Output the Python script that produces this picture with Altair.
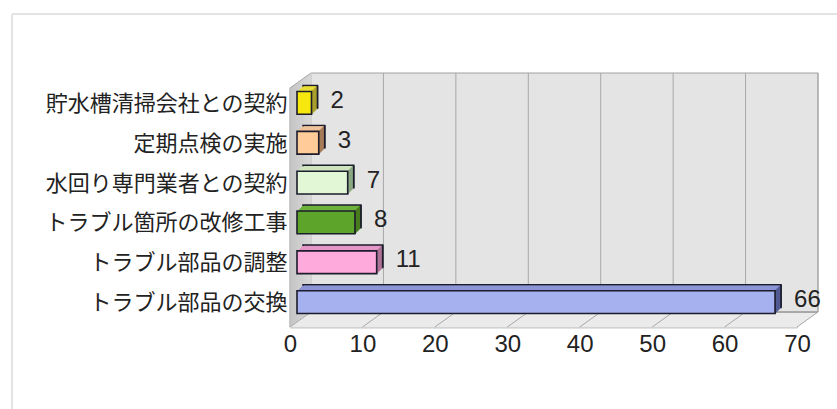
import altair as alt
import pandas as pd

# Survey answers: measures taken against water-fixture trouble
categories = [
    "貯水槽清掃会社との契約",
    "定期点検の実施",
    "水回り専門業者との契約",
    "トラブル箇所の改修工事",
    "トラブル部品の調整",
    "トラブル部品の交換",
]
values = [2, 3, 7, 8, 11, 66]
x_ticks = [0, 10, 20, 30, 40, 50, 60, 70]

# Face colours of each 3-D bar (front, top, right side)
front_colors = ["#f6e80c", "#ffcc99", "#e2f7d6", "#5ca42a", "#ffaadc", "#a6b1ef"]
top_colors = ["#e8dc3a", "#eec39c", "#cfe5c0", "#6cb23c", "#e497c6", "#8c95d6"]
side_colors = ["#a9a12c", "#a57a58", "#8aa982", "#467a1e", "#ad7395", "#4f5890"]

df = pd.DataFrame({
    "cat": categories,
    "val": values,
    "front": front_colors,
    "top": top_colors,
    "side": side_colors,
})
grid_df = pd.DataFrame({"g": x_ticks})
one = pd.DataFrame({"k": [0]})

W, H = 507, 239
WALL_DX, WALL_DY = 21, -15      # depth of the walls / floor
BAR_DX, BAR_DY = 7, -5          # gap between front plane and bar front
DEPTH = 6                       # bar depth (px, diagonal steps)
EDGE = "#1c1c2c"
GRID = "#a8a8a8"

xs = alt.Scale(domain=[0, 70], nice=False, zero=True)
ys = alt.Scale(domain=categories, paddingInner=0.43, paddingOuter=0.215)
bandwidth = 0.57 * H / 6

X = alt.X("val:Q", scale=xs,
          axis=alt.Axis(values=x_ticks, title=None, grid=False, ticks=False,
                        domain=True, domainColor="#8a8a8a", domainWidth=1.5,
                        labelFont="Liberation Sans", labelFontSize=24,
                        labelColor="#222222", labelPadding=5,
                        labelFlush=False, labelOverlap=False))
Y = alt.Y("cat:N", scale=ys, sort=categories,
          axis=alt.Axis(title=None, ticks=False, domain=True,
                        domainColor="#9a9a9a", domainWidth=1.5,
                        labelFont="Noto Sans CJK JP", labelFontSize=22,
                        labelColor="#222222", labelPadding=3,
                        labelOffset=-4, labelLimit=400))

layers = []

# outer frame of the chart object
layers.append(alt.Chart(one).mark_rule(color="#e4e4e4", strokeWidth=2).encode(
    x=alt.value(-278), x2=alt.value(560), y=alt.value(-74), y2=alt.value(-74)))
layers.append(alt.Chart(one).mark_rule(color="#e4e4e4", strokeWidth=2).encode(
    x=alt.value(-278), x2=alt.value(-278), y=alt.value(-74), y2=alt.value(340)))

# back wall
layers.append(alt.Chart(one).mark_rect(
    fill="#e4e4e4", stroke="#a0a0a0", strokeWidth=1,
    xOffset=WALL_DX, x2Offset=WALL_DX, yOffset=WALL_DY, y2Offset=WALL_DY,
).encode(x=alt.datum(0, scale=xs), x2=alt.datum(70),
         y=alt.value(0), y2=alt.value("height")))

# vertical gridlines on the back wall
layers.append(alt.Chart(grid_df).mark_rule(
    color=GRID, strokeWidth=1,
    xOffset=WALL_DX, yOffset=WALL_DY, y2Offset=WALL_DY,
).encode(x=alt.X("g:Q", scale=xs), y=alt.value(0), y2=alt.value("height")))

# left wall, built up from vertical strokes stepping into the depth
for i in range(WALL_DX + 1):
    shade = 194 + int(22 * i / WALL_DX)
    layers.append(alt.Chart(one).mark_rule(
        color=f"rgb({shade},{shade},{shade})", strokeWidth=1.6,
        xOffset=i, yOffset=i * WALL_DY / WALL_DX, y2Offset=i * WALL_DY / WALL_DX,
    ).encode(x=alt.datum(0, scale=xs), y=alt.value(0), y2=alt.value("height")))

# floor, built up from horizontal strokes stepping into the depth
for j in range(-WALL_DY + 1):
    layers.append(alt.Chart(one).mark_rule(
        color="#eaeaea", strokeWidth=1.6,
        xOffset=j * WALL_DX / -WALL_DY, x2Offset=j * WALL_DX / -WALL_DY,
        yOffset=-j, y2Offset=-j,
    ).encode(x=alt.datum(0, scale=xs), x2=alt.datum(70),
             y=alt.value("height"), y2=alt.value("height")))

# floor grid diagonals and wall edges
layers.append(alt.Chart(grid_df).mark_rule(
    color=GRID, strokeWidth=1, x2Offset=WALL_DX, y2Offset=WALL_DY,
).encode(x=alt.X("g:Q", scale=xs), x2="g:Q",
         y=alt.value("height"), y2=alt.value("height")))
layers.append(alt.Chart(grid_df).mark_rule(
    color=GRID, strokeWidth=1, xOffset=WALL_DX, x2Offset=WALL_DX,
    yOffset=WALL_DY, y2Offset=WALL_DY,
).encode(x=alt.datum(0, scale=xs), x2=alt.datum(70),
         y=alt.value("height"), y2=alt.value("height")))
layers.append(alt.Chart(one).mark_rule(
    color=GRID, strokeWidth=1, x2Offset=WALL_DX, y2Offset=WALL_DY,
).encode(x=alt.datum(0, scale=xs), x2=alt.datum(0),
         y=alt.value(0), y2=alt.value(0)))

# bars: top face (back copy carries the outline), side face, front face
base = alt.Chart(df)
for i in range(DEPTH, 0, -1):
    ox, oy = BAR_DX + i, BAR_DY - i
    kw = dict(stroke=EDGE, strokeWidth=1.5) if i == DEPTH else dict(strokeWidth=0)
    layers.append(base.mark_bar(
        xOffset=ox, x2Offset=ox, yOffset=oy, y2Offset=oy, **kw
    ).encode(x=X, y=Y, fill=alt.Fill("top:N", scale=None)))
for i in range(0, DEPTH + 1):
    ox, oy = BAR_DX + i, BAR_DY - i
    layers.append(base.mark_tick(
        size=bandwidth, thickness=1.6, xOffset=ox, yOffset=oy, opacity=1,
    ).encode(x=X, y=Y,
             color=alt.value(EDGE) if i in (0, DEPTH) else alt.Color("side:N", scale=None)))
layers.append(base.mark_bar(
    stroke=EDGE, strokeWidth=1.6,
    xOffset=BAR_DX, x2Offset=BAR_DX, yOffset=BAR_DY, y2Offset=BAR_DY,
).encode(x=X, y=Y, fill=alt.Fill("front:N", scale=None)))

# value labels
layers.append(base.mark_text(
    align="left", baseline="middle", dx=26, dy=-7,
    font="Liberation Sans", fontSize=24, color="#222222",
).encode(x=X, y=Y, text="val:Q"))

chart = alt.layer(*layers).properties(
    width=W, height=H,
    autosize=alt.AutoSizeParams(type="none"),
    padding={"left": 290, "top": 88, "right": 40, "bottom": 82},
    background="white",
).configure_view(stroke=None)

chart.save("out.html", embed_options={"renderer": "svg", "actions": False})
